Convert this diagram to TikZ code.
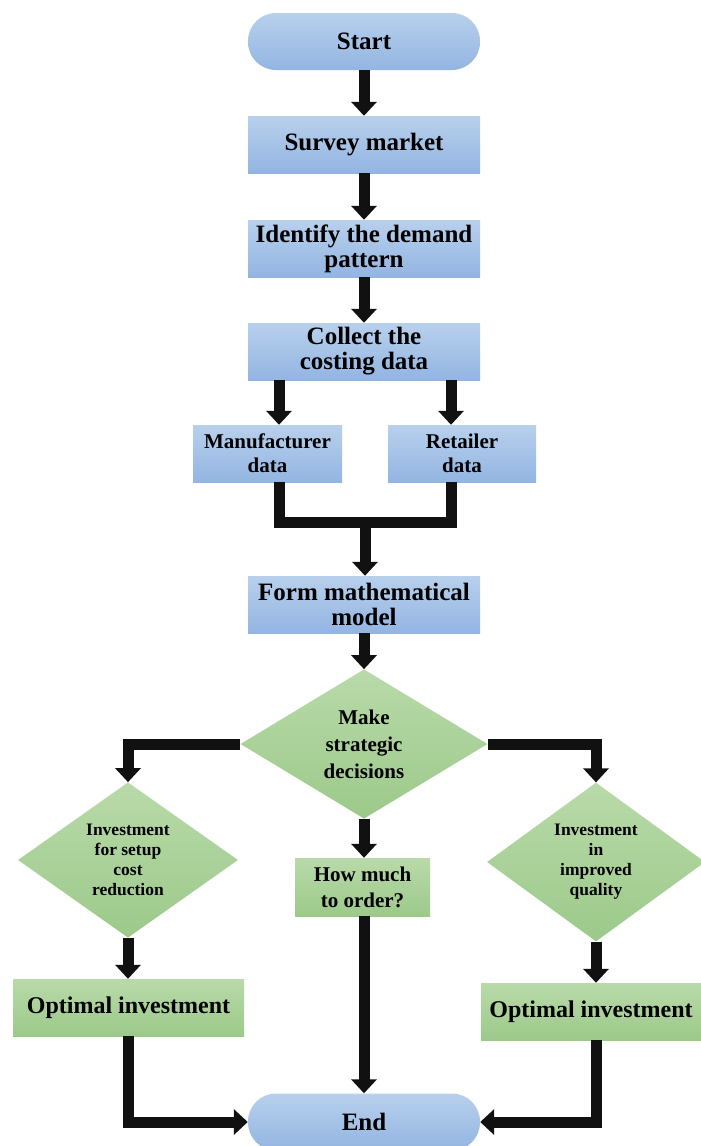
\documentclass[tikz,border=0pt]{standalone}
\usepackage{fontspec}
\setmainfont{Liberation Serif}
\usetikzlibrary{arrows.meta,shapes.geometric}
\definecolor{bt}{HTML}{B8D0EC}
\definecolor{bb}{HTML}{93B5E2}
\definecolor{gt}{HTML}{B9DAA9}
\definecolor{gb}{HTML}{9CC98A}
\definecolor{ac}{HTML}{111111}
\begin{document}
\begin{tikzpicture}[x=1pt,y=-1pt,
  bluebox/.style={rectangle, top color=bt, bottom color=bb, draw=none, minimum width=232pt, minimum height=57pt, align=center, inner sep=0pt, font=\bfseries\fontsize{25}{25}\selectfont},
  smallblue/.style={bluebox, minimum width=149pt, font=\bfseries\fontsize{21}{24}\selectfont},
  stadium/.style={bluebox, rounded corners=28pt},
  greenbox/.style={rectangle, top color=gt, bottom color=gb, draw=none, minimum height=57pt, align=center, inner sep=0pt, font=\bfseries\fontsize{24}{25}\selectfont},
  greendia/.style={diamond, top color=gt, bottom color=gb, draw=none, align=center, inner sep=0pt, font=\bfseries\fontsize{17.5}{20}\selectfont},
  arr/.style={draw=ac, line width=11pt, -{Triangle[width=25pt,length=14pt]}},
  bar/.style={draw=ac, line width=11pt, line join=miter}]
\clip (0,0) rectangle (701,1146);
\fill[white] (0,0) rectangle (701,1146);
\node[stadium] (start) at (364,41.5) {Start};
\node[bluebox] (survey) at (364,144.5) {Survey market};
\node[bluebox] (ident) at (364,248.5) {Identify the demand\\pattern};
\node[bluebox] (collect) at (364,351.5) {Collect the\\costing data};
\node[smallblue] (man) at (267.5,453.5) {Manufacturer\\data};
\node[smallblue, minimum width=148pt] (ret) at (462,453.5) {Retailer\\data};
\node[bluebox] (form) at (364,604.5) {Form mathematical\\model};
\node[greendia, minimum width=247pt, minimum height=136pt, font=\bfseries\fontsize{21}{27}\selectfont] (mk) at (364,744) {Make\\strategic\\decisions};
\node[greendia, minimum width=220pt, minimum height=140pt] (inv1) at (128,860) {Investment\\for setup\\cost\\reduction};
\node[greendia, minimum width=218pt, minimum height=138pt] (inv2) at (596,862) {Investment\\in\\improved\\quality};
\node[greenbox, minimum width=135pt, minimum height=58pt, font=\bfseries\fontsize{21}{26}\selectfont] (how) at (362.5,887) {How much\\to order?};
\node[greenbox, minimum width=231pt] (opt1) at (128.5,1007.5) {Optimal investment};
\node[greenbox, minimum width=220pt] (opt2) at (591,1011.5) {Optimal investment};
\node[stadium] (end) at (364,1122) {End};
\coordinate (ml) at (279,482);
\coordinate (rl) at (451,482);
\coordinate (join) at (365,522);
\draw[arr] (start) -- (survey);
\draw[arr] (survey) -- (ident);
\draw[arr] (ident) -- (collect);
\draw[arr] (collect.south -| ml) -- (ml |- man.north);
\draw[arr] (collect.south -| rl) -- (rl |- ret.north);
\draw[bar] (ml) |- (join) -| (rl);
\draw[arr] (join) -- (join |- form.north);
\draw[arr] (form) -- (mk);
\draw[arr] (mk.west) -| (inv1.north);
\draw[arr] (mk.east) -| (inv2.north);
\draw[arr] (mk.south) -- (mk.south |- how.north);
\draw[arr] (inv1.south) -- (inv1.south |- opt1.north);
\draw[arr] (inv2.south) -- (inv2.south |- opt2.north);
\draw[arr] (opt1.south -| inv1.south) |- (end.west);
\draw[arr] (opt2.south -| inv2.south) |- (end.east);
\draw[arr] (how.south -| mk.south) -- (end.north);
\end{tikzpicture}
\end{document}
